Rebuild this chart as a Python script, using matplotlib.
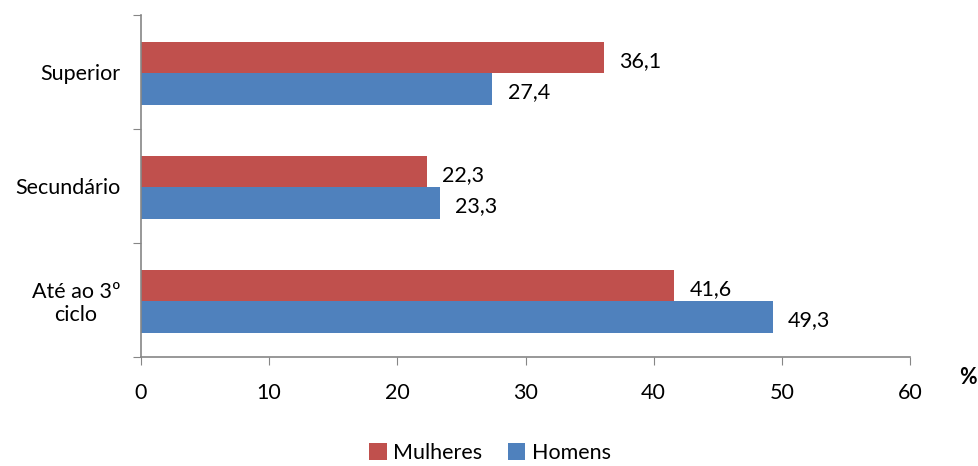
import matplotlib.pyplot as plt
import numpy as np

# ==========================
# Data
# ==========================
categories = ["Até ao 3º\nciclo", "Secundário", "Superior"]
mulheres = [41.6, 22.3, 36.1]
homens = [49.3, 23.3, 27.4]

RED = "#C0504D"
BLUE = "#4F81BD"
AXIS = "#868686"
FS = 15.5

plt.rcParams["font.family"] = ["Lato", "DejaVu Sans"]

fig = plt.figure(figsize=(9.79, 4.66), dpi=100)
ax = fig.add_axes([141 / 979, 1 - 357 / 466, (910 - 141) / 979, (357 - 15) / 466])

y = np.arange(len(categories))
h = 0.275
ax.barh(y + 0.125, mulheres, height=h, color=RED, label="Mulheres")
ax.barh(y - 0.15, homens, height=h, color=BLUE, label="Homens")

for yi, v in zip(y, mulheres):
    ax.text(v + 1.2, yi + 0.1, f"{v:.1f}".replace(".", ","), va="center",
            ha="left", fontsize=FS)
for yi, v in zip(y, homens):
    ax.text(v + 1.2, yi - 0.18, f"{v:.1f}".replace(".", ","), va="center",
            ha="left", fontsize=FS)

ax.set_xlim(0, 60)
ax.set_ylim(-0.5, 2.5)
ax.set_xticks(range(0, 61, 10))
ax.tick_params(axis="x", labelsize=FS, length=6, color=AXIS, pad=13)

# category ticks between groups, labels right-aligned
ax.set_yticks([-0.5, 0.5, 1.5, 2.5])
ax.set_yticklabels([])
ax.set_yticks(y, minor=True)
ax.set_yticklabels(categories, minor=True, fontsize=FS, ha="right",
                   multialignment="center")
ax.tick_params(axis="y", which="major", length=6, color=AXIS)
ax.tick_params(axis="y", which="minor", length=0, pad=15)

for s in ["top", "right"]:
    ax.spines[s].set_visible(False)
for s in ["left", "bottom"]:
    ax.spines[s].set_color(AXIS)
    ax.spines[s].set_linewidth(1.2)

fig.text(968 / 979, 1 - 378 / 466, "%", fontsize=FS, fontweight="bold",
         ha="center", va="center")

fig.legend(loc="center", bbox_to_anchor=(490 / 979, 1 - 453 / 466), ncol=2,
           frameon=False, fontsize=FS, handlelength=0.8, handleheight=0.8,
           handletextpad=0.3, columnspacing=1.2, borderpad=0)

fig.savefig("out.png", dpi=100)
